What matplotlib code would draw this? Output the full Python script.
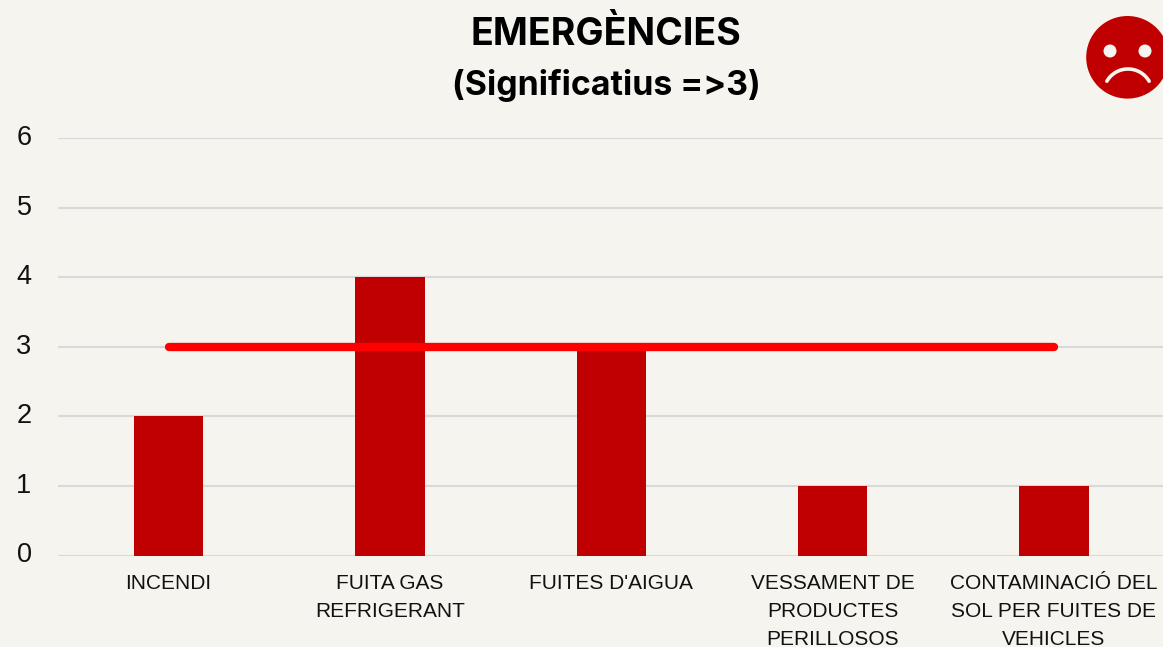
import matplotlib
matplotlib.use('Agg')
import matplotlib.pyplot as plt
from matplotlib.patches import Circle, Arc

categories = ["INCENDI", "FUITA GAS\nREFRIGERANT", "FUITES D'AIGUA",
              "VESSAMENT DE\nPRODUCTES\nPERILLOSOS",
              "CONTAMINACIÓ DEL\nSOL PER FUITES DE\nVEHICLES"]
values = [2, 4, 3, 1, 1]
threshold = [3, 3, 3, 3, 3]
yticks = [0, 1, 2, 3, 4, 5, 6]

W, H = 1163, 647
BG = '#f5f4ee'
DARKRED = '#c00000'

fig = plt.figure(figsize=(W/100, H/100), dpi=100, facecolor=BG)
ax = fig.add_axes([58/W, 1-555.5/H, (W-58)/W, (555.5-138)/H], facecolor=BG)

x = list(range(len(categories)))
ax.bar(x, values, width=0.314, color=DARKRED, zorder=3)
ax.plot(x, threshold, color='#ff0000', lw=6, solid_capstyle='round', zorder=4)

ax.set_xlim(-0.5, 4.493)
ax.set_ylim(0, 6)
ax.set_yticks(yticks)
ax.grid(axis='y', color='#d9d9d9', lw=1.5, zorder=1)
ax.set_axisbelow(True)
for s in ax.spines.values():
    s.set_visible(False)
ax.tick_params(axis='both', length=0)
ax.tick_params(axis='y', pad=19)
ax.tick_params(axis='x', pad=13.5)
ax.set_xticks(x)
ax.set_xticklabels(categories, fontsize=15, family='Liberation Sans', color='#111111', linespacing=1.6)
ax.set_yticklabels([str(t) for t in yticks], fontsize=19.5, family='Liberation Sans', color='#111111', va='center')

#title in two lines
fig.text(606/W, 1-35/H, "EMERGÈNCIES", ha='center', va='center', fontsize=27, fontweight='bold', family='Inter', color='black')
fig.text(606/W, 1-85/H, "(Significatius =>3)", ha='center', va='center', fontsize=24.4, fontweight='bold', family='Inter', color='black')

#sad face, pixel coordinates
face = fig.add_axes([0, 0, 1, 1], facecolor='none')
face.set_xlim(0, W)
face.set_ylim(H, 0)
face.axis('off')
face.add_patch(Circle((1127.5, 57.3), 41.3, color=DARKRED, lw=0))
face.add_patch(Circle((1110, 51), 6.5, color=BG, lw=0))
face.add_patch(Circle((1145, 51), 6.5, color=BG, lw=0))
face.add_patch(Arc((1128, 93.4), 48.8, 48.8, theta1=210, theta2=330, color=BG, lw=2.6, capstyle='round'))

fig.savefig('out.png', dpi=100, facecolor=BG)
